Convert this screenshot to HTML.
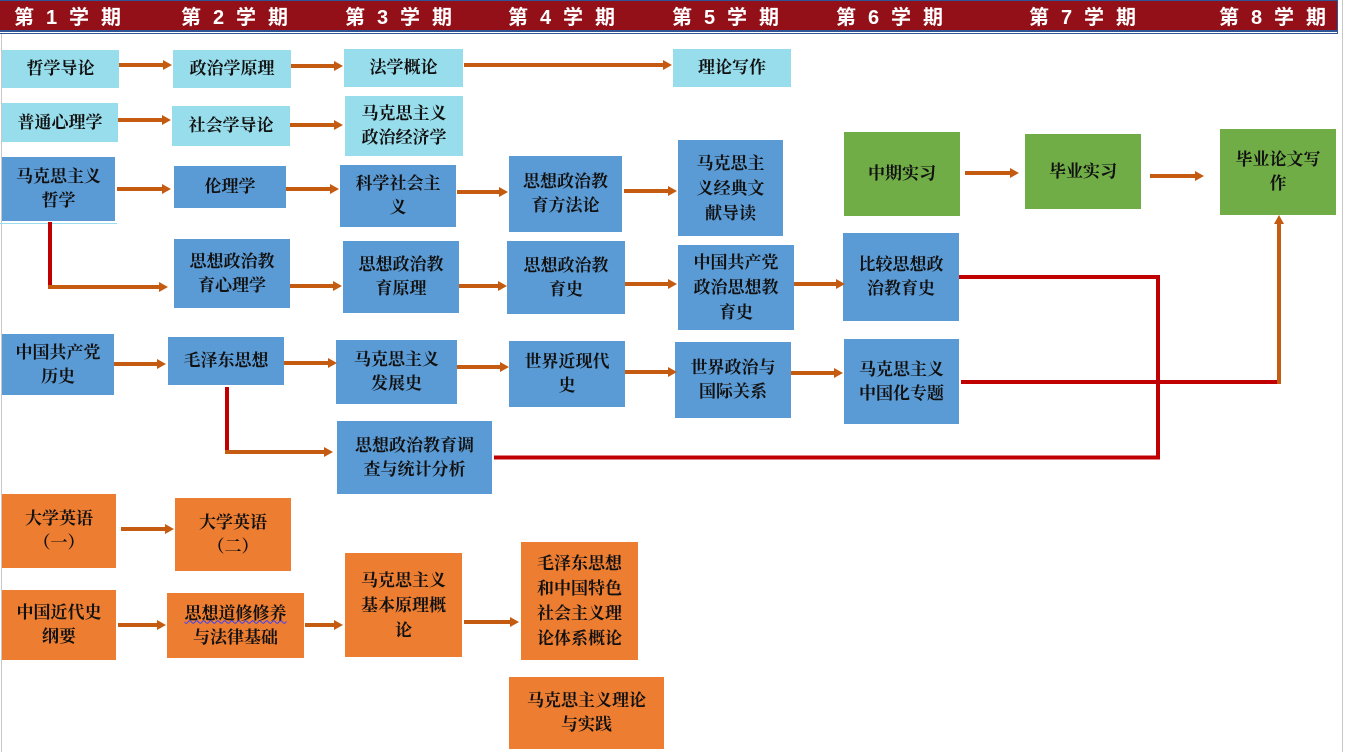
<!DOCTYPE html>
<html><head><meta charset="utf-8">
<style>
html,body{margin:0;padding:0;background:#fff;}
body{width:1348px;height:752px;position:relative;overflow:hidden;}
.h{position:absolute;top:5px;height:27px;line-height:27px;color:#fff;font-family:"Liberation Sans","Noto Sans CJK SC",sans-serif;font-weight:bold;font-size:20px;letter-spacing:3.2px;white-space:pre;}
.b{position:absolute;display:flex;align-items:center;justify-content:center;text-align:center;font-family:"Liberation Serif","Noto Serif CJK SC",serif;font-weight:bold;font-size:17px;line-height:24px;color:#111;}
.c{background:#97DDEB;}
.u{background:#5B9BD5;}
.g{background:#70AD47;}
.o{background:#ED7D31;}
.l3{line-height:25px;}
</style></head><body>
<!-- header -->
<div style="position:absolute;left:0;top:0;width:1338px;height:1px;background:#2F5597;"></div>
<div style="position:absolute;left:0;top:1px;width:1337px;height:29px;background:#941019;"></div>
<div style="position:absolute;left:0;top:30px;width:1338px;height:1.5px;background:#2F5597;"></div>
<div style="position:absolute;left:0;top:32.5px;width:1338px;height:1.5px;background:#2F5597;"></div>
<div style="position:absolute;left:1337px;top:0;width:1px;height:34px;background:#2F5597;"></div>
<div class="h" style="left:14px;">第 1 学 期</div>
<div class="h" style="left:181px;">第 2 学 期</div>
<div class="h" style="left:345px;">第 3 学 期</div>
<div class="h" style="left:508px;">第 4 学 期</div>
<div class="h" style="left:672px;">第 5 学 期</div>
<div class="h" style="left:836px;">第 6 学 期</div>
<div class="h" style="left:1029px;">第 7 学 期</div>
<div class="h" style="left:1219px;">第 8 学 期</div>
<!-- borders -->
<div style="position:absolute;left:1px;top:34px;width:1px;height:718px;background:#C8C8C8;"></div>
<div style="position:absolute;left:1342px;top:0;width:1px;height:752px;background:#C8C8C8;"></div>
<div style="position:absolute;left:0;top:223px;width:117px;height:1px;background:#97DDEB;"></div>

<!-- light cyan -->
<div class="b c" style="left:2px;top:50px;width:117px;height:38px;">哲学导论</div>
<div class="b c" style="left:173px;top:50px;width:118px;height:38px;">政治学原理</div>
<div class="b c" style="left:344px;top:49px;width:119px;height:38px;">法学概论</div>
<div class="b c" style="left:673px;top:49px;width:118px;height:38px;">理论写作</div>
<div class="b c" style="left:2px;top:103px;width:116px;height:39px;">普通心理学</div>
<div class="b c" style="left:172px;top:106px;width:118px;height:40px;">社会学导论</div>
<div class="b c" style="left:345px;top:96px;width:118px;height:60px;">马克思主义<br>政治经济学</div>

<!-- blue -->
<div class="b u" style="left:2px;top:157px;width:113px;height:64px;">马克思主义<br>哲学</div>
<div class="b u" style="left:174px;top:166px;width:112px;height:42px;">伦理学</div>
<div class="b u" style="left:340px;top:165px;width:116px;height:62px;">科学社会主<br>义</div>
<div class="b u" style="left:509px;top:156px;width:113px;height:76px;">思想政治教<br>育方法论</div>
<div class="b u l3" style="left:678px;top:140px;width:105px;height:96px;">马克思主<br>义经典文<br>献导读</div>
<div class="b u" style="left:174px;top:239px;width:116px;height:69px;">思想政治教<br>育心理学</div>
<div class="b u" style="left:343px;top:241px;width:116px;height:72px;">思想政治教<br>育原理</div>
<div class="b u" style="left:507px;top:241px;width:118px;height:73px;">思想政治教<br>育史</div>
<div class="b u l3" style="left:678px;top:245px;width:116px;height:85px;">中国共产党<br>政治思想教<br>育史</div>
<div class="b u" style="left:843px;top:233px;width:116px;height:88px;">比较思想政<br>治教育史</div>
<div class="b u" style="left:2px;top:334px;width:112px;height:61px;">中国共产党<br>历史</div>
<div class="b u" style="left:168px;top:337px;width:116px;height:48px;">毛泽东思想</div>
<div class="b u" style="left:336px;top:340px;width:121px;height:64px;">马克思主义<br>发展史</div>
<div class="b u" style="left:509px;top:341px;width:116px;height:66px;">世界近现代<br>史</div>
<div class="b u" style="left:675px;top:342px;width:116px;height:76px;">世界政治与<br>国际关系</div>
<div class="b u" style="left:844px;top:339px;width:115px;height:85px;">马克思主义<br>中国化专题</div>
<div class="b u" style="left:337px;top:421px;width:155px;height:73px;">思想政治教育调<br>查与统计分析</div>

<!-- green -->
<div class="b g" style="left:844px;top:132px;width:116px;height:84px;">中期实习</div>
<div class="b g" style="left:1025px;top:134px;width:116px;height:75px;">毕业实习</div>
<div class="b g" style="left:1220px;top:129px;width:116px;height:86px;">毕业论文写<br>作</div>

<!-- orange -->
<div class="b o" style="left:2px;top:494px;width:114px;height:74px;">大学英语<br>（一）</div>
<div class="b o" style="left:175px;top:498px;width:116px;height:73px;">大学英语<br>（二）</div>
<div class="b o" style="left:2px;top:590px;width:114px;height:70px;">中国近代史<br>纲要</div>
<div class="b o" style="left:167px;top:593px;width:137px;height:65px;"><span><span style="text-decoration:underline wavy #3340ff;text-decoration-thickness:1px;">思想道修修养</span><br>与法律基础</span></div>
<div class="b o l3" style="left:345px;top:553px;width:117px;height:104px;">马克思主义<br>基本原理概<br>论</div>
<div class="b o l3" style="left:521px;top:542px;width:117px;height:118px;">毛泽东思想<br>和中国特色<br>社会主义理<br>论体系概论</div>
<div class="b o" style="left:509px;top:677px;width:155px;height:72px;">马克思主义理论<br>与实践</div>

<svg width="1348" height="752" style="position:absolute;left:0;top:0;" xmlns="http://www.w3.org/2000/svg">
<g stroke="#C00000" stroke-width="4" fill="none">
<line x1="50" y1="222" x2="50" y2="287"/>
<line x1="227" y1="387" x2="227" y2="452"/>
<polyline points="959,277 1158,277 1158,457.5 494,457.5"/>
<line x1="961" y1="382" x2="1279" y2="382"/>
</g>
<g stroke="#C55A11" stroke-width="4" fill="#C55A11">
<line x1="119" y1="65" x2="164" y2="65"/><polygon stroke="none" points="163,60 172,65 163,70"/>
<line x1="291" y1="66" x2="335" y2="66"/><polygon stroke="none" points="334,61 343,66 334,71"/>
<line x1="464" y1="65" x2="664" y2="65"/><polygon stroke="none" points="663,60 672,65 663,70"/>
<line x1="118" y1="120" x2="163" y2="120"/><polygon stroke="none" points="162,115 171,120 162,125"/>
<line x1="290" y1="125" x2="335" y2="125"/><polygon stroke="none" points="334,120 343,125 334,130"/>
<line x1="117" y1="189" x2="163" y2="189"/><polygon stroke="none" points="162,184 171,189 162,194"/>
<line x1="286" y1="189" x2="331" y2="189"/><polygon stroke="none" points="330,184 339,189 330,194"/>
<line x1="457" y1="192" x2="500" y2="192"/><polygon stroke="none" points="499,187 508,192 499,197"/>
<line x1="624" y1="191" x2="669" y2="191"/><polygon stroke="none" points="668,186 677,191 668,196"/>
<line x1="965" y1="173" x2="1011" y2="173"/><polygon stroke="none" points="1010,168 1019,173 1010,178"/>
<line x1="1150" y1="176" x2="1196" y2="176"/><polygon stroke="none" points="1195,171 1204,176 1195,181"/>
<line x1="48" y1="287" x2="160" y2="287"/><polygon stroke="none" points="159,282 168,287 159,292"/>
<line x1="290" y1="286" x2="334" y2="286"/><polygon stroke="none" points="333,281 342,286 333,291"/>
<line x1="459" y1="286" x2="499" y2="286"/><polygon stroke="none" points="498,281 507,286 498,291"/>
<line x1="625" y1="284" x2="669" y2="284"/><polygon stroke="none" points="668,279 677,284 668,289"/>
<line x1="794" y1="284" x2="837" y2="284"/><polygon stroke="none" points="836,279 845,284 836,289"/>
<line x1="114" y1="364" x2="158" y2="364"/><polygon stroke="none" points="157,359 166,364 157,369"/>
<line x1="284" y1="363" x2="329" y2="363"/><polygon stroke="none" points="328,358 337,363 328,368"/>
<line x1="457" y1="367" x2="501" y2="367"/><polygon stroke="none" points="500,362 509,367 500,372"/>
<line x1="625" y1="372" x2="669" y2="372"/><polygon stroke="none" points="668,367 677,372 668,377"/>
<line x1="791" y1="373" x2="835" y2="373"/><polygon stroke="none" points="834,368 843,373 834,378"/>
<line x1="225" y1="452" x2="325" y2="452"/><polygon stroke="none" points="324,447 333,452 324,457"/>
<line x1="121" y1="529" x2="166" y2="529"/><polygon stroke="none" points="165,524 174,529 165,534"/>
<line x1="118" y1="625" x2="158" y2="625"/><polygon stroke="none" points="157,620 166,625 157,630"/>
<line x1="305" y1="625" x2="335" y2="625"/><polygon stroke="none" points="334,620 343,625 334,630"/>
<line x1="464" y1="622" x2="511" y2="622"/><polygon stroke="none" points="510,617 519,622 510,627"/>
<line x1="1279" y1="384" x2="1279" y2="223"/><polygon stroke="none" points="1274,224 1279,215 1284,224"/>
</g>
</svg>
</body></html>
